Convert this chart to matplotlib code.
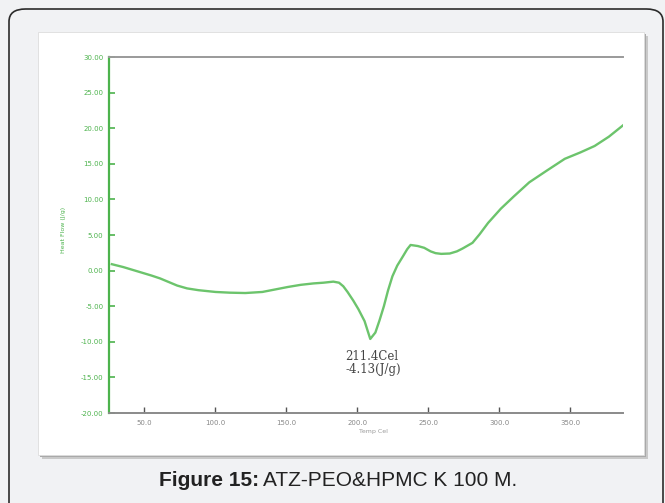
import matplotlib
matplotlib.use("Agg")
import matplotlib.pyplot as plt
from matplotlib.patches import FancyBboxPatch, Rectangle

# DSC trace
temp = [27, 35, 45, 55, 61, 67, 73, 80, 88, 100, 110, 121, 133, 142, 151, 160,
        169, 176, 183, 187, 190, 193, 197, 200.6, 205, 209, 212.6, 215.5, 218.6,
        221.5, 224.6, 228, 232, 235, 237.4, 242.5, 247, 251.5, 255, 259, 265,
        270, 274, 281, 286, 292, 301, 310, 321, 333, 346, 357, 367, 377, 387]
heat = [0.9, 0.5, -0.1, -0.7, -1.1, -1.6, -2.1, -2.5, -2.75, -3.0, -3.1, -3.15,
        -3.0, -2.65, -2.3, -2.0, -1.8, -1.7, -1.55, -1.7, -2.2, -3.0, -4.2, -5.4,
        -7.1, -9.6, -8.7, -7.0, -5.0, -2.8, -0.8, 0.7, 2.0, 3.0, 3.6, 3.45, 3.2,
        2.7, 2.45, 2.35, 2.4, 2.7, 3.1, 3.9, 5.1, 6.7, 8.7, 10.4, 12.4, 14.0,
        15.7, 16.6, 17.5, 18.8, 20.4]

xticks = [50, 100, 150, 200, 250, 300, 350]
yticks = [30, 25, 20, 15, 10, 5, 0, -5, -10, -15, -20]

W, H = 665, 503
fig = plt.figure(figsize=(W / 100, H / 100), dpi=100)
fig.patch.set_facecolor("#f1f2f4")

def fx(px):
    return px / W

def fy(py):
    return 1 - py / H

# outer rounded frame
frame = FancyBboxPatch((fx(9), fy(520)), fx(654), 511 / H,
                       boxstyle="round,pad=0,rounding_size=0.025",
                       transform=fig.transFigure, facecolor="#f1f2f4",
                       edgecolor="#2b2b2b", linewidth=1.2, zorder=-3)
fig.patches.append(frame)

# white picture panel with a soft shadow
for off, col in [(4, "#c9c9c9"), (2, "#a9a9a9")]:
    fig.patches.append(Rectangle((fx(38 + off), fy(455 + off)), fx(606), 423 / H,
                                 transform=fig.transFigure, facecolor=col,
                                 edgecolor="none", zorder=-2))
fig.patches.append(Rectangle((fx(38), fy(455)), fx(606), 423 / H,
                             transform=fig.transFigure, facecolor="white",
                             edgecolor="#dddddd", linewidth=0.6, zorder=-1))

green = "#4db34d"
ax = fig.add_axes([fx(109), fy(413), fx(623 - 109), (413 - 57) / H])
ax.set_zorder(2)
ax.set_facecolor("white")
ax.plot(temp, heat, color="#6cc46c", linewidth=1.7)
ax.set_xlim(25, 387)
ax.set_ylim(-20, 30)

ax.spines["right"].set_visible(False)
ax.spines["left"].set_color(green)
ax.spines["left"].set_linewidth(1.6)
ax.spines["top"].set_color("#9a9a9a")
ax.spines["top"].set_linewidth(1.4)
ax.spines["bottom"].set_color("#8a8a8a")
ax.spines["bottom"].set_linewidth(1.4)

ax.set_xticks(xticks)
ax.set_xticklabels([f"{t:.1f}" for t in xticks])
ax.set_yticks(yticks)
ax.set_yticklabels([f"{t:.2f}" for t in yticks])
ax.tick_params(axis="y", direction="in", colors=green, labelsize=5,
               length=4, width=1.2, pad=4)
ax.tick_params(axis="x", direction="in", colors="#555555", labelsize=5,
               length=4, width=1.0, pad=5)
for lbl in ax.get_xticklabels():
    lbl.set_color("#888888")

fig.text(fx(63), fy(230), "Heat Flow (J/g)", rotation=90, color=green,
         fontsize=4.5, ha="center", va="center")
fig.text(fx(373), fy(432), "Temp Cel", color="#9a9a9a", fontsize=4.5,
         ha="center", va="center")

fig.text(fx(345), fy(363), "211.4Cel\n-4.13(J/g)", family="DejaVu Serif",
         color="#444444", fontsize=8.5, ha="left", va="center", linespacing=0.95)

# caption
cap_y = fy(481)
t1 = fig.text(fx(159), cap_y, "Figure 15:", family="Liberation Sans",
              fontweight="bold", fontsize=15, color="#222222",
              ha="left", va="center")
fig.canvas.draw()
bb = t1.get_window_extent()
fig.text((bb.x1 + 4) / W, cap_y, "ATZ-PEO&HPMC K 100 M.",
         family="Liberation Sans", fontsize=15, color="#222222",
         ha="left", va="center")

fig.savefig("out.png", dpi=100, facecolor=fig.get_facecolor())
